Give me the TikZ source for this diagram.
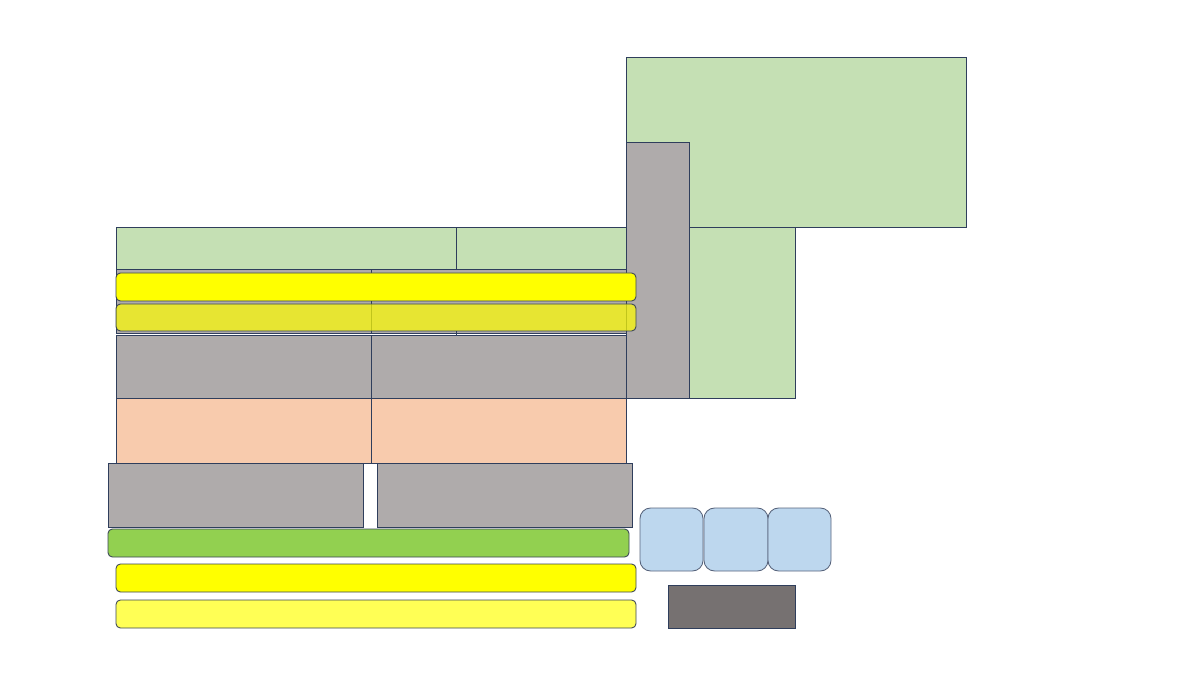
\documentclass[tikz,border=0pt]{standalone}
\begin{document}
\begin{tikzpicture}[x=0.02cm,y=-0.02cm,
  edge/.style={draw=edgecol,line width=0.5pt},
  cell/.style={edge},
  bar/.style={edge,draw=bargray,rounded corners=2.5pt},
  bluebox/.style={edge,draw=edgecol!80,rounded corners=6pt,fill=lblue}]
\definecolor{edgecol}{HTML}{2F3E5C}
\definecolor{bargray}{HTML}{3A4456}
\definecolor{lgreen}{HTML}{C5E0B4}
\definecolor{mgray}{HTML}{AFABAB}
\definecolor{peach}{HTML}{F8CBAD}
\definecolor{vgreen}{HTML}{92D050}
\definecolor{pureyellow}{HTML}{FFFF00}
\definecolor{pyellow}{HTML}{FFFF55}
\definecolor{lblue}{HTML}{BDD7EE}
\definecolor{dgray}{HTML}{767171}
\useasboundingbox (0,0) rectangle (1200,675);
% top right green blocks and gray column
\draw[cell,fill=lgreen] (626,57) rectangle (966,227);
\draw[cell,fill=lgreen] (626,227) rectangle (795,398);
\draw[cell,fill=mgray] (626,142) rectangle (689,398);
% top green row
\draw[cell,fill=lgreen] (116,227) rectangle (456,269);
\draw[cell,fill=lgreen] (456,227) rectangle (626,269);
% hidden gray row behind yellow bars
\draw[cell,fill=mgray] (116,269) rectangle (371,333);
\draw[cell,fill=mgray] (371,269) rectangle (626,333);
\draw[edge] (456,331) -- (456,335);
% yellow bars
\draw[bar,fill=pureyellow] (116,273) rectangle (636,301);
\draw[bar,fill=pureyellow,fill opacity=0.7] (116,304) rectangle (636,331);
% gray row
\draw[cell,fill=mgray] (116,335) rectangle (371,398);
\draw[cell,fill=mgray] (371,335) rectangle (626,398);
% peach row
\draw[cell,fill=peach] (116,398) rectangle (371,463);
\draw[cell,fill=peach] (371,398) rectangle (626,463);
% lower gray row
\draw[cell,fill=mgray] (108,463) rectangle (363,527);
\draw[cell,fill=mgray] (377,463) rectangle (632,527);
% bottom bars
\draw[bar,fill=vgreen] (108,529) rectangle (629,557);
\draw[bar,fill=pureyellow] (116,564) rectangle (636,592);
\draw[bar,fill=pyellow] (116,600) rectangle (636,628);
% blue boxes
\draw[bluebox] (640,508) rectangle (703,571);
\draw[bluebox] (704,508) rectangle (768,571);
\draw[bluebox] (768,508) rectangle (831,571);
% dark gray box
\draw[cell,fill=dgray] (668,585) rectangle (795,628);
\end{tikzpicture}
\end{document}
